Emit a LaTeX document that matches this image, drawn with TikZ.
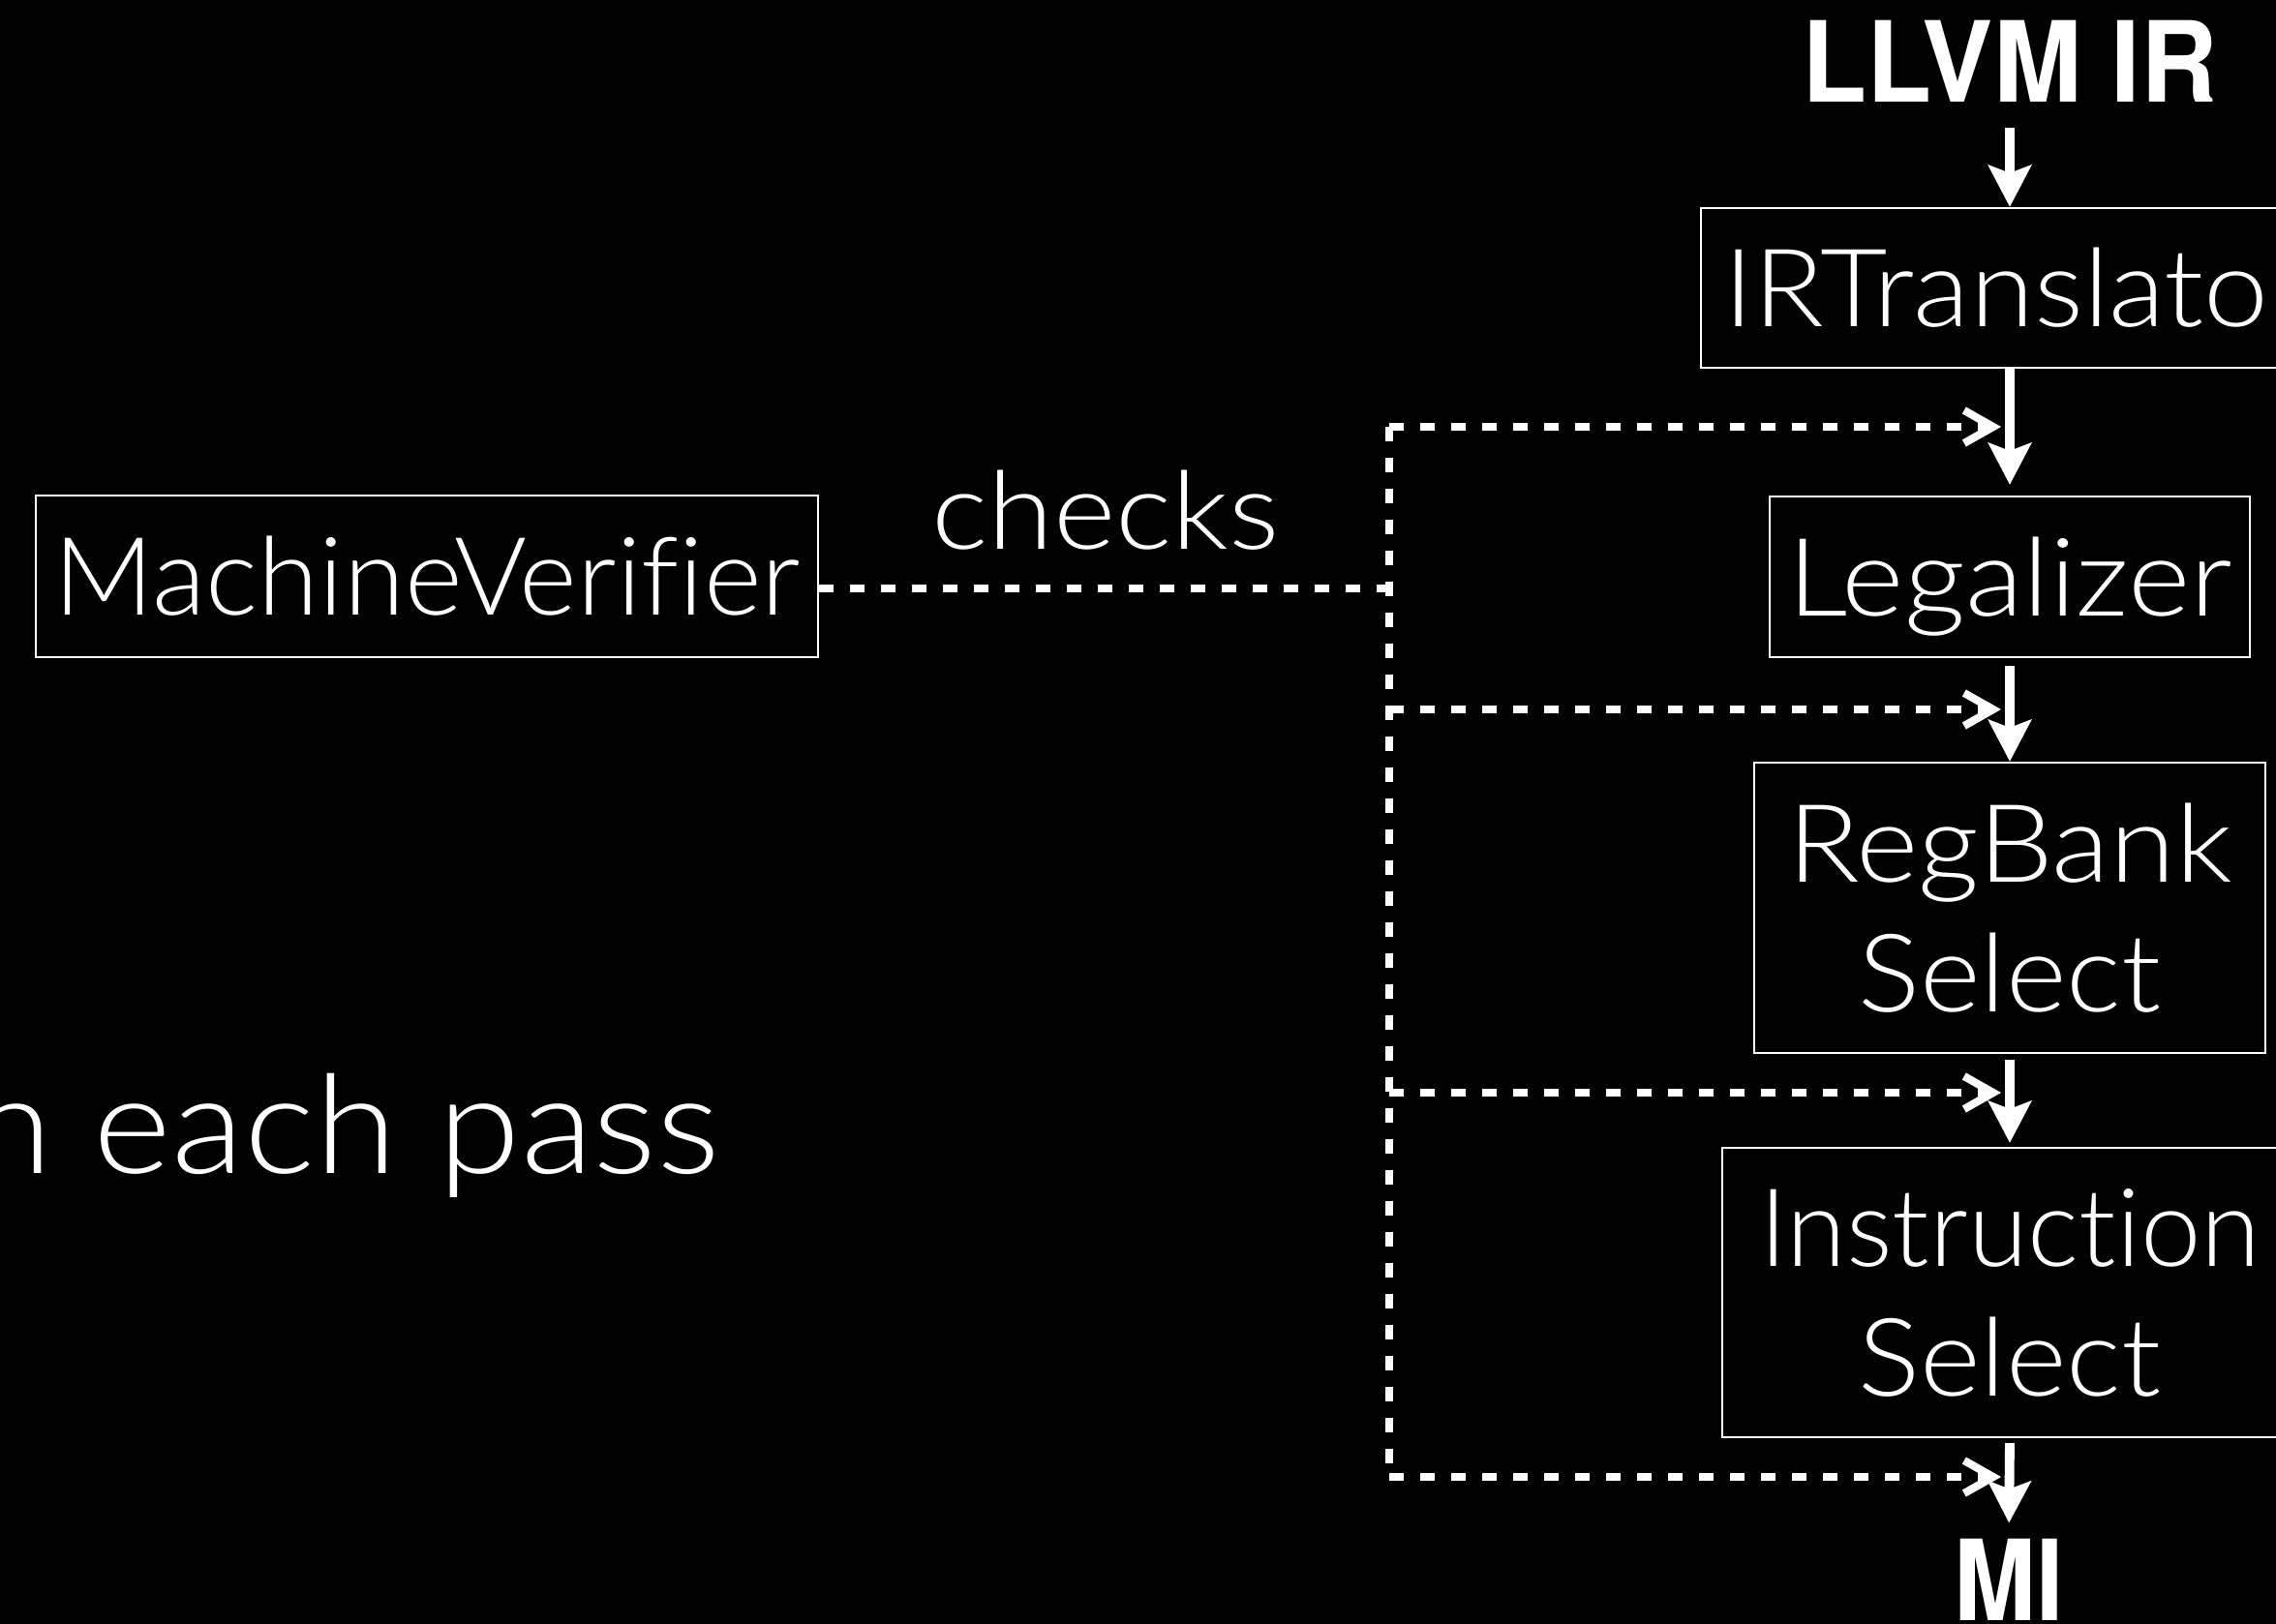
\documentclass[tikz,border=0pt]{standalone}
\usepackage{fontspec}
\setmainfont{Lato}[UprightFont=* Light, Ligatures=NoCommon]
\newfontfamily\heros{TeX Gyre Heros}
\usepackage{graphicx}
\usetikzlibrary{arrows.meta}
% horizontal stretch of a single line of text
\newcommand\widen[2]{\scalebox{#1}[1]{#2}}
\begin{document}
\begin{tikzpicture}[
  every node/.style={text=white, inner sep=0pt},
  passbox/.style={draw=white, line width=0.65pt,
    font=\fontsize{31.9}{38.1}\selectfont, align=center,
    text height=0.8cm, text depth=0cm},
  twoline/.style={passbox, text height=2.14cm},
  flow/.style={draw=white, line width=2.8pt,
    -{Stealth[length=0.43cm,width=0.44cm,inset=0.08cm]}},
  verify/.style={draw=white, line width=2.3pt, dash pattern=on 0.15cm off 0.17cm},
  verifyarrow/.style={verify, -{Straight Barb[length=0.3cm,width=0.34cm]}},
  irname/.style={font=\heros\fontsize{32.9}{38}\selectfont\bfseries, anchor=base},
  plain/.style={font=\fontsize{31.9}{38}\selectfont, anchor=base}
]
% canvas
\useasboundingbox (0,0) rectangle (23.51,-16.77);
\fill[black] (-0.2,0.2) rectangle (23.71,-16.97);
\clip (0,0) rectangle (23.51,-16.77);

% pipeline passes
\node[passbox, minimum width=6.52cm, minimum height=1.65cm] (irt) at (20.83,-2.975) {\widen{1.07}{IRTranslator}};
\node[passbox, minimum width=4.96cm, minimum height=1.66cm] (leg) at (20.76,-5.96) {\widen{1.10}{Legalizer}};
\node[twoline, minimum width=5.28cm, minimum height=3.00cm] (rbs) at (20.76,-9.38) {\widen{1.10}{RegBank}\\\widen{1.07}{Select}};
\node[twoline, minimum width=5.94cm, minimum height=2.99cm] (isel) at (20.76,-13.355) {Instruction\\\widen{1.07}{Select}};

% input and output
\node[irname] (llvm) at (20.76,-1.05) {\widen{0.95}{LLVM IR}};
\node[irname] (mi) at (20.75,-16.745) {\widen{0.88}{MI}};

% verifier
\node[passbox, minimum width=8.08cm, minimum height=1.67cm] (mv) at (4.41,-5.955) {\widen{1.02}{MachineVerifier}};
\node[plain] (checks) at (11.42,-5.67) {\widen{1.10}{checks}};
\node[font=\fontsize{40.4}{46}\selectfont, anchor=base east] (each) at (7.45,-12.12) {\widen{1.09}{n each pass}};

% main flow
\draw[flow, shorten <=0.26cm] (llvm.south) -- (llvm.south |- irt.north);
\draw[flow, shorten >=0.11cm] (irt.south -| leg.north) -- (leg.north);
\draw[flow, shorten <=0.08cm] (leg.south) -- (rbs.north);
\draw[flow, shorten <=0.06cm, shorten >=0.04cm] (rbs.south) -- (isel.north);
\draw[flow, shorten <=0.05cm, shorten >=0.16cm] (isel.south) -- (mi.north);

% verifier hooks between passes
\coordinate (j0) at (14.35,-6.08);
\coordinate (j1) at (14.35,-4.41);
\coordinate (j2) at (14.35,-7.33);
\coordinate (j3) at (14.35,-11.29);
\coordinate (j4) at (14.35,-15.26);
\coordinate (h1) at (20.67,-4.41);
\coordinate (h2) at (20.67,-7.33);
\coordinate (h3) at (20.67,-11.29);
\coordinate (h4) at (20.67,-15.26);

\draw[verify] (mv.east |- j0) -- (j0);
\draw[verify] (j1) -- (j4);
\draw[verifyarrow] (j1) -- (h1);
\draw[verifyarrow] (j2) -- (h2);
\draw[verifyarrow] (j3) -- (h3);
\draw[verifyarrow] (j4) -- (h4);
\end{tikzpicture}
\end{document}
